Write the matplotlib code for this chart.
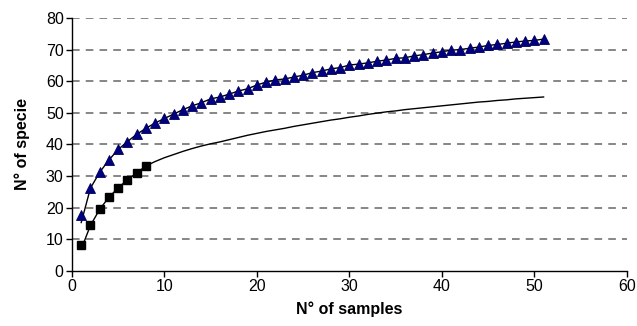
import matplotlib
matplotlib.use("Agg")
import matplotlib.pyplot as plt
import numpy as np

plt.rcParams['font.family'] = ['Liberation Sans', 'DejaVu Sans']

# Triangle series (samples 1..51)
tri_x = list(range(1, 52))
tri_y = [17.8, 26.2, 31.2, 35.1, 38.4, 40.9, 43.2, 45.1, 46.8, 48.2,
         49.6, 51.0, 52.2, 53.2, 54.4, 55.0, 55.9, 56.9, 57.6, 58.8,
         59.7, 60.4, 60.7, 61.3, 61.9, 62.7, 63.2, 63.9, 64.3, 65.1,
         65.4, 65.8, 66.3, 66.7, 67.2, 67.4, 68.0, 68.4, 68.9, 69.3,
         69.8, 70.0, 70.4, 70.8, 71.3, 71.6, 72.0, 72.4, 72.7, 72.9, 73.3]
# Line through triangle series
tri_line_y = [15.3] + tri_y[1:]

# Square series (samples 1..8)
sq_x = list(range(1, 9))
sq_y = [8.3, 14.4, 19.5, 23.3, 26.3, 28.8, 31.0, 33.2]

# Line for square series (samples 1..51)
sq_line_x = list(range(1, 52))
sq_line_y = [6.9, 14.4, 19.5, 23.3, 26.3, 28.8, 31.0, 33.2, 34.6, 35.8,
             36.8, 37.8, 38.7, 39.5, 40.2, 40.8, 41.5, 42.2, 42.9, 43.5,
             44.1, 44.6, 45.1, 45.7, 46.2, 46.7, 47.2, 47.7, 48.1, 48.6,
             49.0, 49.5, 49.9, 50.3, 50.6, 51.0, 51.3, 51.6, 51.9, 52.2,
             52.5, 52.8, 53.1, 53.4, 53.6, 53.9, 54.1, 54.4, 54.6, 54.8, 55.0]

x_ticks = [0, 10, 20, 30, 40, 50, 60]
y_ticks = [0, 10, 20, 30, 40, 50, 60, 70, 80]

fig = plt.figure(figsize=(6.37, 3.26), dpi=100)
ax = fig.add_axes([0.113, 0.169, 0.871, 0.776])

for yv in y_ticks[1:]:
    ax.axhline(yv, color='#666666', linestyle=(0, (5, 4)), linewidth=1.1, zorder=1)

ax.plot(sq_line_x, sq_line_y, color='black', linewidth=1.0, zorder=2)
ax.plot(tri_x, tri_line_y, color='black', linewidth=1.0, zorder=2)
ax.plot(sq_x, sq_y, linestyle='none', marker='s', markersize=6,
        markerfacecolor='black', markeredgecolor='black', zorder=3)
ax.plot(tri_x, tri_y, linestyle='none', marker='^', markersize=7,
        markerfacecolor='#000080', markeredgecolor='#00005a',
        markeredgewidth=0.6, zorder=3)

ax.set_xlim(0, 60)
ax.set_ylim(0, 80)
ax.set_xticks(x_ticks)
ax.set_yticks(y_ticks)
ax.tick_params(direction='out', length=4, width=1, labelsize=11.5, pad=2)
for s in ['top', 'right']:
    ax.spines[s].set_visible(False)
for s in ['left', 'bottom']:
    ax.spines[s].set_linewidth(1.0)

ax.set_xlabel('N° of samples', fontsize=11.5, fontweight='bold', labelpad=5)
ax.set_ylabel('N° of specie', fontsize=11.5, fontweight='bold', labelpad=11)

fig.savefig('out.png', dpi=100)
